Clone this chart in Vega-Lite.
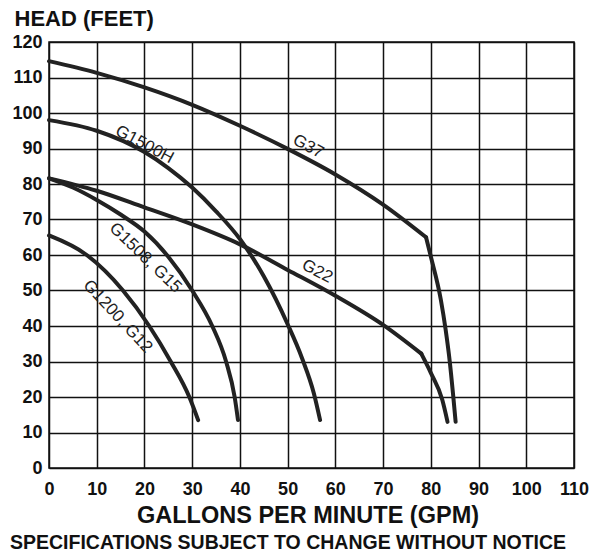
{
  "$schema": "https://vega.github.io/schema/vega-lite/v6.json",
  "width": 525,
  "height": 426,
  "autosize": "none",
  "padding": {"left": 49, "top": 42, "right": 30, "bottom": 83},
  "background": "white",
  "config": {
    "font": "Liberation Sans",
    "view": {"stroke": "#111", "strokeWidth": 1.5},
    "axis": {
      "grid": true, "gridColor": "#111", "gridWidth": 1.5, "gridOpacity": 1,
      "domain": false, "ticks": false,
      "labelFont": "Liberation Sans", "labelFontWeight": "bold", "labelFontSize": 18, "labelColor": "#111",
      "titleFont": "Liberation Sans", "titleFontWeight": "bold", "titleColor": "#111",
      "labelFlush": false, "labelOverlap": false
    }
  },
  "title": {
    "text": "SPECIFICATIONS SUBJECT TO CHANGE WITHOUT NOTICE",
    "orient": "bottom", "anchor": "start", "frame": "group", "dx": -39, "offset": 7,
    "font": "Liberation Sans", "fontSize": 19.5, "fontWeight": "bold", "color": "#111"
  },
  "datasets": {
    "curves": [
      {"series": "G37", "part": "upper", "gpm": 0, "head": 114.6},
      {"series": "G37", "part": "upper", "gpm": 10, "head": 111.3},
      {"series": "G37", "part": "upper", "gpm": 20, "head": 107.2},
      {"series": "G37", "part": "upper", "gpm": 30, "head": 102.3},
      {"series": "G37", "part": "upper", "gpm": 40, "head": 96.4},
      {"series": "G37", "part": "upper", "gpm": 50, "head": 89.9},
      {"series": "G37", "part": "upper", "gpm": 60, "head": 82.7},
      {"series": "G37", "part": "upper", "gpm": 70, "head": 74.2},
      {"series": "G37", "part": "upper", "gpm": 79, "head": 65},
      {"series": "G37", "part": "lower", "gpm": 79, "head": 65},
      {"series": "G37", "part": "lower", "gpm": 80, "head": 59.6},
      {"series": "G37", "part": "lower", "gpm": 82.1, "head": 47.4},
      {"series": "G37", "part": "lower", "gpm": 83.1, "head": 39},
      {"series": "G37", "part": "lower", "gpm": 84, "head": 29.6},
      {"series": "G37", "part": "lower", "gpm": 84.7, "head": 20.2},
      {"series": "G37", "part": "lower", "gpm": 85.2, "head": 13},
      {"series": "G22", "part": "upper", "gpm": 0, "head": 81.6},
      {"series": "G22", "part": "upper", "gpm": 10, "head": 78.1},
      {"series": "G22", "part": "upper", "gpm": 20, "head": 73.4},
      {"series": "G22", "part": "upper", "gpm": 30, "head": 68.6},
      {"series": "G22", "part": "upper", "gpm": 40, "head": 63},
      {"series": "G22", "part": "upper", "gpm": 50, "head": 55.8},
      {"series": "G22", "part": "upper", "gpm": 60, "head": 48.5},
      {"series": "G22", "part": "upper", "gpm": 70, "head": 40.3},
      {"series": "G22", "part": "upper", "gpm": 78, "head": 32.2},
      {"series": "G22", "part": "lower", "gpm": 78, "head": 32.2},
      {"series": "G22", "part": "lower", "gpm": 80, "head": 26.8},
      {"series": "G22", "part": "lower", "gpm": 82.4, "head": 19.2},
      {"series": "G22", "part": "lower", "gpm": 83.5, "head": 13},
      {"series": "G1500H", "part": "all", "gpm": 0, "head": 98},
      {"series": "G1500H", "part": "all", "gpm": 10, "head": 95},
      {"series": "G1500H", "part": "all", "gpm": 20, "head": 89},
      {"series": "G1500H", "part": "all", "gpm": 25, "head": 84.5},
      {"series": "G1500H", "part": "all", "gpm": 30, "head": 79},
      {"series": "G1500H", "part": "all", "gpm": 35, "head": 72.3},
      {"series": "G1500H", "part": "all", "gpm": 40, "head": 64.5},
      {"series": "G1500H", "part": "all", "gpm": 45, "head": 54},
      {"series": "G1500H", "part": "all", "gpm": 50, "head": 40.5},
      {"series": "G1500H", "part": "all", "gpm": 53, "head": 31},
      {"series": "G1500H", "part": "all", "gpm": 55.5, "head": 21},
      {"series": "G1500H", "part": "all", "gpm": 56.8, "head": 13.5},
      {"series": "G1508", "part": "all", "gpm": 0, "head": 81.6},
      {"series": "G1508", "part": "all", "gpm": 5, "head": 79},
      {"series": "G1508", "part": "all", "gpm": 10, "head": 75.5},
      {"series": "G1508", "part": "all", "gpm": 15, "head": 71.4},
      {"series": "G1508", "part": "all", "gpm": 20, "head": 66.6},
      {"series": "G1508", "part": "all", "gpm": 25, "head": 59.5},
      {"series": "G1508", "part": "all", "gpm": 30, "head": 50},
      {"series": "G1508", "part": "all", "gpm": 34.2, "head": 40},
      {"series": "G1508", "part": "all", "gpm": 37.1, "head": 30},
      {"series": "G1508", "part": "all", "gpm": 38.9, "head": 20},
      {"series": "G1508", "part": "all", "gpm": 39.6, "head": 13.5},
      {"series": "G1200", "part": "all", "gpm": 0, "head": 65.5},
      {"series": "G1200", "part": "all", "gpm": 7.9, "head": 60},
      {"series": "G1200", "part": "all", "gpm": 15.5, "head": 50},
      {"series": "G1200", "part": "all", "gpm": 21, "head": 40},
      {"series": "G1200", "part": "all", "gpm": 25.5, "head": 30},
      {"series": "G1200", "part": "all", "gpm": 29.4, "head": 20},
      {"series": "G1200", "part": "all", "gpm": 31.25, "head": 13.5}
    ],
    "labels": [
      {"label": "G37", "gpm": 54.3, "head": 90.6},
      {"label": "G1500H", "gpm": 20.0, "head": 91.1},
      {"label": "G22", "gpm": 56.2, "head": 55.4},
      {"label": "G1508, G15", "gpm": 20.2, "head": 59.2},
      {"label": "G1200, G12", "gpm": 14.4, "head": 42.7}
    ]
  },
  "encoding": {
    "x": {
      "field": "gpm", "type": "quantitative",
      "scale": {"domain": [0, 110], "nice": false, "zero": true},
      "axis": {
        "values": [0, 10, 20, 30, 40, 50, 60, 70, 80, 90, 100, 110],
        "labelPadding": 12,
        "title": "GALLONS PER MINUTE (GPM)", "titleFontSize": 23.5,
        "titleX": 258.5, "titleY": 54.5, "titleBaseline": "alphabetic"
      }
    },
    "y": {
      "field": "head", "type": "quantitative",
      "scale": {"domain": [0, 120], "nice": false},
      "axis": {
        "values": [0, 10, 20, 30, 40, 50, 60, 70, 80, 90, 100, 110, 120],
        "tickCount": 13,
        "labelPadding": 7,
        "title": "HEAD (FEET)", "titleFontSize": 22, "titleAngle": 0,
        "titleAlign": "left", "titleBaseline": "alphabetic",
        "titleX": -35, "titleY": -17
      }
    }
  },
  "layer": [
    {
      "data": {"name": "curves"},
      "mark": {"type": "line", "interpolate": "monotone", "strokeWidth": 4, "color": "#222", "strokeCap": "round"},
      "encoding": {
        "detail": [{"field": "series"}, {"field": "part"}]
      }
    },
    {
      "data": {"name": "labels"},
      "transform": [{"filter": "datum.label === 'G37' || datum.label === 'G1500H' || datum.label === 'G22'"}],
      "mark": {"type": "text", "angle": 28, "fontSize": 17, "font": "Liberation Sans", "color": "#222"},
      "encoding": {
        "text": {"field": "label"}
      }
    },
    {
      "data": {"name": "labels"},
      "transform": [{"filter": "datum.label === 'G1508, G15'"}],
      "mark": {"type": "text", "angle": 44, "fontSize": 17, "font": "Liberation Sans", "color": "#222"},
      "encoding": {
        "text": {"field": "label"}
      }
    },
    {
      "data": {"name": "labels"},
      "transform": [{"filter": "datum.label === 'G1200, G12'"}],
      "mark": {"type": "text", "angle": 47, "fontSize": 17, "font": "Liberation Sans", "color": "#222"},
      "encoding": {
        "text": {"field": "label"}
      }
    }
  ]
}
